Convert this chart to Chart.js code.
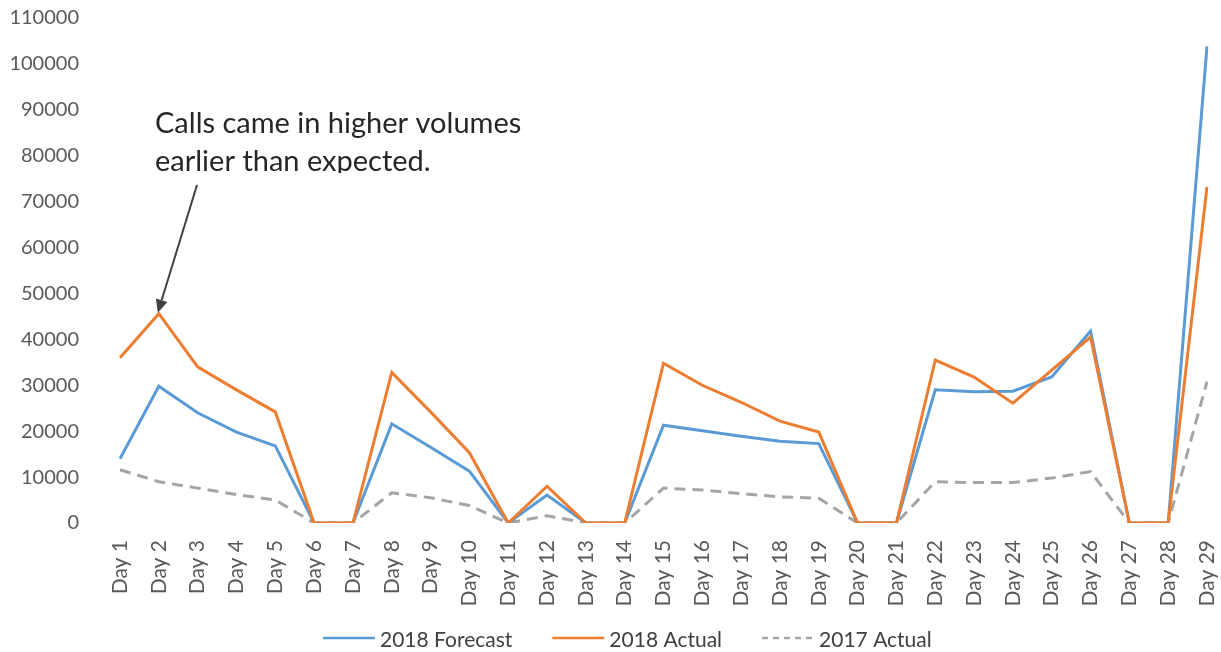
<!DOCTYPE html>
<html>
<head>
<meta charset="utf-8">
<script src="https://cdn.jsdelivr.net/npm/chart.js@4/dist/chart.umd.min.js"></script>
<style>
  html, body { margin: 0; padding: 0; background: #ffffff; }
  #wrap { width: 1221px; height: 652px; position: relative; }
</style>
</head>
<body>
<div id="wrap"><canvas id="calls"></canvas></div>
<script>
// Daily call volumes
const days = ['Day 1','Day 2','Day 3','Day 4','Day 5','Day 6','Day 7','Day 8','Day 9','Day 10',
  'Day 11','Day 12','Day 13','Day 14','Day 15','Day 16','Day 17','Day 18','Day 19','Day 20',
  'Day 21','Day 22','Day 23','Day 24','Day 25','Day 26','Day 27','Day 28','Day 29'];

const forecast2018 = [14000, 29800, 24000, 19800, 16800, 0, 0, 21600, 16500, 11300,
  0, 6100, 0, 0, 21300, 20100, 18900, 17800, 17300, 0,
  0, 29000, 28600, 28700, 31800, 41800, 0, 0, 103800];

const actual2018 = [36000, 45600, 34000, 29000, 24200, 0, 0, 32800, 24200, 15300,
  0, 8000, 0, 0, 34800, 30000, 26300, 22200, 19800, 0,
  0, 35500, 31800, 26100, 33300, 40500, 0, 0, 73200];

const actual2017 = [11600, 9000, 7600, 6200, 5000, 0, 0, 6600, 5500, 3800,
  0, 1600, 0, 0, 7600, 7200, 6400, 5700, 5400, 0,
  0, 9000, 8800, 8800, 9800, 11200, 0, 0, 30800];

const yTicks = [0, 10000, 20000, 30000, 40000, 50000, 60000, 70000, 80000, 90000, 100000, 110000];

const noteLines = ['Calls came in higher volumes', 'earlier than expected.'];

const FONT = 'Lato, "Open Sans", sans-serif';
const TICK_COLOR = '#595959';

// Callout text with an arrow pointing at the Day 2 actual peak
const calloutPlugin = {
  id: 'callout',
  afterDatasetsDraw(chart) {
    const ctx = chart.ctx;
    const meta = chart.getDatasetMeta(1);
    const pt = meta.data[1];
    const tipX = pt.x - 1, tipY = pt.y - 1;
    const tailX = 197, tailY = 185;

    ctx.save();
    ctx.strokeStyle = '#404040';
    ctx.fillStyle = '#404040';
    ctx.lineWidth = 2;
    const ang = Math.atan2(tipY - tailY, tipX - tailX);
    const headLen = 13, headHalf = 6;
    const baseX = tipX - Math.cos(ang) * headLen;
    const baseY = tipY - Math.sin(ang) * headLen;
    ctx.beginPath();
    ctx.moveTo(tailX, tailY);
    ctx.lineTo(baseX, baseY);
    ctx.stroke();
    ctx.beginPath();
    ctx.moveTo(tipX, tipY);
    ctx.lineTo(baseX + Math.sin(ang) * headHalf, baseY - Math.cos(ang) * headHalf);
    ctx.lineTo(baseX - Math.sin(ang) * headHalf, baseY + Math.cos(ang) * headHalf);
    ctx.closePath();
    ctx.fill();

    // text box clips the bottom of the second line
    ctx.beginPath();
    ctx.rect(140, 95, 420, 78);
    ctx.clip();
    ctx.fillStyle = '#262626';
    ctx.font = '29px ' + FONT;
    ctx.textAlign = 'left';
    ctx.textBaseline = 'alphabetic';
    ctx.fillText(noteLines[0], 155, 133);
    ctx.fillText(noteLines[1], 155, 171);
    ctx.restore();
  }
};

// Legend row under the axis: line swatch followed by the series name
const legendRowPlugin = {
  id: 'legendRow',
  afterDraw(chart) {
    const ctx = chart.ctx;
    const sw = 52, gapText = 5, gapItem = 40, y = 640;
    ctx.save();
    ctx.font = '21px ' + FONT;
    ctx.textBaseline = 'middle';
    ctx.textAlign = 'left';
    const items = chart.data.datasets.map(ds => ({ ds, w: sw + gapText + ctx.measureText(ds.label).width }));
    let x = 323;
    items.forEach(it => {
      ctx.strokeStyle = it.ds.borderColor;
      ctx.lineWidth = 2.5;
      ctx.setLineDash(it.ds.borderDash ? [6, 5] : []);
      ctx.beginPath();
      ctx.moveTo(x, y - 2);
      ctx.lineTo(x + sw, y - 2);
      ctx.stroke();
      ctx.setLineDash([]);
      ctx.fillStyle = '#404040';
      ctx.fillText(it.ds.label, x + sw + gapText, y);
      x += it.w + gapItem;
    });
    ctx.restore();
  }
};

new Chart(document.getElementById('calls'), {
  type: 'line',
  data: {
    labels: days,
    datasets: [
      { label: '2018 Forecast', data: forecast2018, borderColor: '#5B9BD5', backgroundColor: '#5B9BD5',
        borderWidth: 3, pointRadius: 0, tension: 0, order: 1 },
      { label: '2018 Actual', data: actual2018, borderColor: '#ED7D31', backgroundColor: '#ED7D31',
        borderWidth: 3, pointRadius: 0, tension: 0, order: 0 },
      { label: '2017 Actual', data: actual2017, borderColor: '#A5A5A5', backgroundColor: '#A5A5A5',
        borderWidth: 3, borderDash: [11, 7], pointRadius: 0, tension: 0, order: 2 }
    ]
  },
  options: {
    responsive: true,
    maintainAspectRatio: false,
    animation: false,
    events: [],
    layout: { padding: { top: 18, right: 14, bottom: 40, left: 0 } },
    plugins: {
      legend: { display: false },
      tooltip: { enabled: false },
      title: { display: false }
    },
    scales: {
      x: {
        grid: { display: false, drawTicks: false },
        border: { display: false },
        offset: false,
        ticks: {
          autoSkip: false, minRotation: 90, maxRotation: 90, padding: 17,
          color: TICK_COLOR, font: { family: FONT, size: 21 }
        },
        afterFit(scale) {
          scale.height = 89;
          scale.paddingLeft = 0;
          scale.paddingRight = 0;
        }
      },
      y: {
        min: 0, max: 110000,
        grid: { display: false, drawTicks: false },
        border: { display: false },
        afterBuildTicks(scale) { scale.ticks = yTicks.map(v => ({ value: v })); },
        ticks: {
          padding: 41, color: TICK_COLOR, font: { family: FONT, size: 20 },
          callback: v => String(v)
        },
        afterFit(scale) {
          scale.width = 120;
          scale.paddingTop = 0;
          scale.paddingBottom = 0;
        }
      }
    }
  },
  plugins: [calloutPlugin, legendRowPlugin]
});
</script>
</body>
</html>
